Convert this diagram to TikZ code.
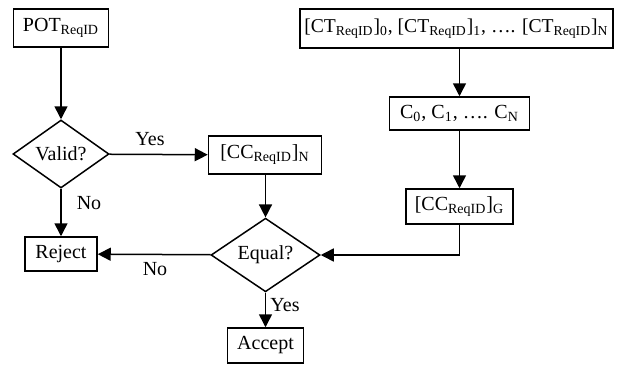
\documentclass[tikz,border=0pt]{standalone}
\usepackage{fontspec}
\setmainfont{Liberation Serif}
\usetikzlibrary{shapes.geometric,arrows.meta}
\begin{document}
\begin{tikzpicture}[x=0.5pt,y=-0.5pt,
  font=\fontsize{10pt}{12pt}\selectfont,
  box/.style={draw,line width=0.75pt,inner sep=0pt,minimum width=#1},
  dec/.style={draw,diamond,line width=0.75pt,inner sep=0pt},
  arr/.style={line width=0.75pt,-{Triangle[length=6.5pt,width=6.5pt]}},
  lab/.style={inner sep=0pt}]
\useasboundingbox (0,0) rectangle (641,364);
\node[box=47.5pt,minimum height=19pt] (pot) at (61,28) {POT\textsubscript{ReqID}};
\node[dec,minimum width=48pt,minimum height=34pt] (valid) at (61,154) {Valid?};
\node[box=56.5pt,minimum height=19pt] (ccn) at (265,155) {[CC\textsubscript{ReqID}]\textsubscript{N}};
\node[box=156.5pt,minimum height=19.5pt,font=\fontsize{9.8pt}{12pt}\selectfont] (ct) at (456.5,28.5) {[CT\textsubscript{ReqID}]\textsubscript{0}, [CT\textsubscript{ReqID}]\textsubscript{1}, …. [CT\textsubscript{ReqID}]\textsubscript{N}};
\node[box=70pt,minimum height=16.5pt] (c) at (459.5,113.5) {C\textsubscript{0}, C\textsubscript{1}, …. C\textsubscript{N}};
\node[box=53.5pt,minimum height=17.5pt] (ccg) at (459.5,206.5) {[CC\textsubscript{ReqID}]\textsubscript{G}};
\node[dec,minimum width=54.5pt,minimum height=33pt] (equal) at (265.5,255) {Equal?};
\node[box=36pt,minimum height=17pt] (reject) at (61,254) {Reject};
\node[box=38pt,minimum height=17.5pt] (accept) at (265.5,345.5) {Accept};

\draw[arr] (pot) -- (valid);
\draw[arr] (valid) -- (ccn);
\draw[arr] (valid) -- (reject);
\draw[arr] (ccn.south -| equal.north) -- (equal);
\draw[arr] (ct.south -| c.north) -- (c);
\draw[arr] (c) -- (ccg);
\draw[arr] (ccg.south) |- (equal.east);
\draw[arr] (equal) -- (reject);
\draw[arr] (equal) -- (accept);

\node[lab] (yes1) at (150,139) {Yes};
\node[lab] (no1) at (89,203) {No};
\node[lab] (no2) at (155,269) {No};
\node[lab] (yes2) at (285,305) {Yes};
\end{tikzpicture}
\end{document}
